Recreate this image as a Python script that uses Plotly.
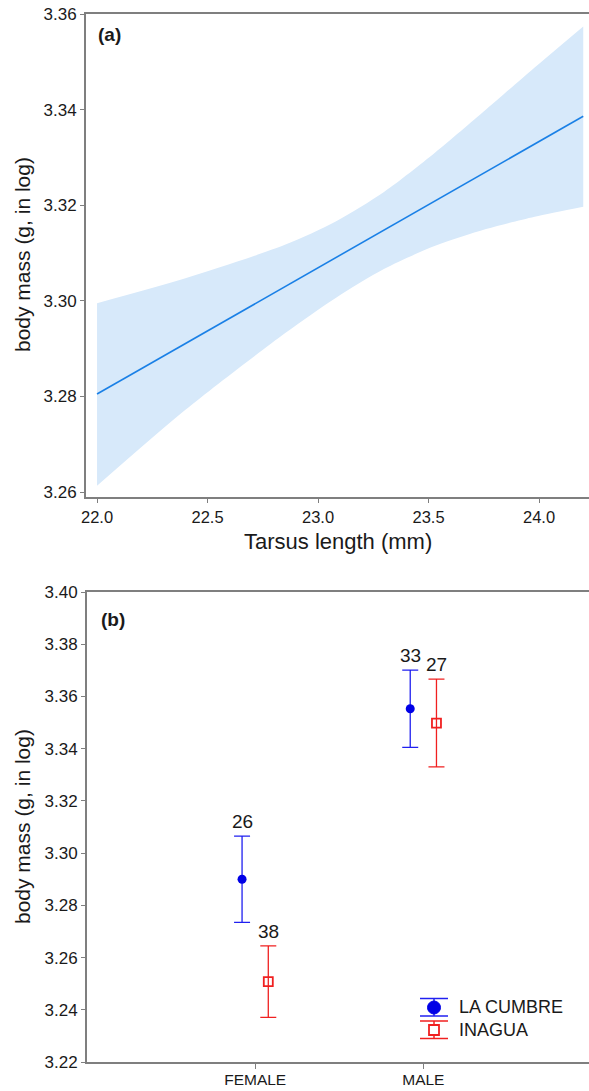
import plotly.graph_objects as go

# ---------------- data ----------------
# panel (a): fitted regression line and its confidence band
tarsus_fit = [22.0, 24.2]
mass_fit = [3.2805, 3.3386]
band_x = [22.0, 22.4, 22.85, 23.08, 23.3, 23.53, 23.76, 23.98, 24.2]
band_upper = [3.2995, 3.3047, 3.3117, 3.3166, 3.3228, 3.3310, 3.3400, 3.3488, 3.3574]
band_lower = [3.2613, 3.2772, 3.2932, 3.3006, 3.3067, 3.3115, 3.3150, 3.3176, 3.3197]

# panel (b): means +/- error by sex and population
sexes = ["FEMALE", "MALE"]
sex_pos = [1, 2]
lc_mean = [3.2900, 3.3553]
lc_err = [0.0165, 0.0148]
lc_n = [26, 33]
ina_mean = [3.2508, 3.3498]
ina_err = [0.0137, 0.0168]
ina_n = [38, 27]
series_names = ["LA CUMBRE", "INAGUA"]

# ---------------- styling ----------------
W, H = 589, 1091
FONT = "Liberation Sans, Arial, sans-serif"
AX = "#7f7f7f"
TXT = "#1a1a1a"
BLUE = "#2020f0"
BLUE_M = "#0000e6"
RED = "#f02020"
offset = 0.078

lc_x = [p - offset for p in sex_pos]
ina_x = [p + offset for p in sex_pos]

fig = go.Figure()

# panel (a)
fig.add_trace(go.Scatter(x=band_x, y=band_lower, mode="lines", line=dict(width=0, shape="spline", smoothing=0.8),
                         showlegend=False, hoverinfo="skip", xaxis="x", yaxis="y"))
fig.add_trace(go.Scatter(x=band_x, y=band_upper, mode="lines", line=dict(width=0, shape="spline", smoothing=0.8),
                         fill="tonexty", fillcolor="#d7e9fa", showlegend=False, hoverinfo="skip",
                         xaxis="x", yaxis="y"))
fig.add_trace(go.Scatter(x=tarsus_fit, y=mass_fit, mode="lines", line=dict(color="#1a80e6", width=1.6),
                         showlegend=False, xaxis="x", yaxis="y"))

# panel (b)
fig.add_trace(go.Scatter(x=lc_x, y=lc_mean, mode="markers", name=series_names[0],
                         marker=dict(symbol="circle", size=9, color=BLUE_M),
                         error_y=dict(type="data", array=lc_err, color=BLUE, thickness=1.3, width=8),
                         showlegend=False, xaxis="x2", yaxis="y2"))
fig.add_trace(go.Scatter(x=ina_x, y=ina_mean, mode="markers", name=series_names[1],
                         marker=dict(symbol="square-open", size=9, color=RED, line=dict(width=1.8, color=RED)),
                         error_y=dict(type="data", array=ina_err, color=RED, thickness=1.3, width=8),
                         showlegend=False, xaxis="x2", yaxis="y2"))

annotations = []
for xs, ms, es, ns in [(lc_x, lc_mean, lc_err, lc_n), (ina_x, ina_mean, ina_err, ina_n)]:
    for x, m, e, n in zip(xs, ms, es, ns):
        annotations.append(dict(x=x, y=m + e, xref="x2", yref="y2", text=str(n), showarrow=False,
                                yanchor="bottom", yshift=2, font=dict(family=FONT, size=19, color=TXT)))

# panel labels
annotations.append(dict(x=96 / W, y=1 - 35 / H, xref="paper", yref="paper", text="<b>(a)</b>", showarrow=False,
                        xanchor="left", yanchor="middle", font=dict(family=FONT, size=19, color=TXT)))
annotations.append(dict(x=99 / W, y=1 - 619 / H, xref="paper", yref="paper", text="<b>(b)</b>", showarrow=False,
                        xanchor="left", yanchor="middle", font=dict(family=FONT, size=19, color=TXT)))
# axis titles
annotations.append(dict(x=22 / W, y=1 - 255 / H, xref="paper", yref="paper", text="body mass (g, in log)",
                        showarrow=False, textangle=-90, xanchor="center", yanchor="middle",
                        font=dict(family=FONT, size=21, color=TXT)))
annotations.append(dict(x=22 / W, y=1 - 827 / H, xref="paper", yref="paper", text="body mass (g, in log)",
                        showarrow=False, textangle=-90, xanchor="center", yanchor="middle",
                        font=dict(family=FONT, size=21, color=TXT)))
annotations.append(dict(x=338 / W, y=1 - 541 / H, xref="paper", yref="paper", text="Tarsus length (mm)",
                        showarrow=False, xanchor="center", yanchor="middle",
                        font=dict(family=FONT, size=22, color=TXT)))
# legend texts
annotations.append(dict(x=457 / W, y=1 - 1007 / H, xref="paper", yref="paper", text=series_names[0],
                        showarrow=False, xanchor="left", yanchor="middle", font=dict(family=FONT, size=18, color=TXT)))
annotations.append(dict(x=457 / W, y=1 - 1030 / H, xref="paper", yref="paper", text=series_names[1],
                        showarrow=False, xanchor="left", yanchor="middle", font=dict(family=FONT, size=18, color=TXT)))

# legend symbols (decoration drawn in pixel units around paper anchors)
shapes = []
def px_line(xa, ya, x0, y0, x1, y1, color, w=1.5):
    shapes.append(dict(type="line", xref="paper", yref="paper", xsizemode="pixel", ysizemode="pixel",
                       xanchor=xa, yanchor=ya, x0=x0, y0=y0, x1=x1, y1=y1, line=dict(color=color, width=w)))

lx = 434 / W
ly1 = 1 - 1007.5 / H
ly2 = 1 - 1030 / H
px_line(lx, ly1, -14, 9, 14, 9, BLUE)
px_line(lx, ly1, -14, -8.5, 14, -8.5, BLUE)
px_line(lx, ly1, 0, -8.5, 0, 9, BLUE)
shapes.append(dict(type="circle", xref="paper", yref="paper", xsizemode="pixel", ysizemode="pixel",
                   xanchor=lx, yanchor=ly1, x0=-6.5, y0=-6.5, x1=6.5, y1=6.5,
                   fillcolor=BLUE_M, line=dict(color=BLUE_M, width=1)))
px_line(lx, ly2, -14, 9, 14, 9, RED)
px_line(lx, ly2, -14, -8.5, 14, -8.5, RED)
px_line(lx, ly2, 0, -8.5, 0, 9, RED)
shapes.append(dict(type="rect", xref="paper", yref="paper", xsizemode="pixel", ysizemode="pixel",
                   xanchor=lx, yanchor=ly2, x0=-5, y0=-5, x1=5, y1=5,
                   fillcolor="white", line=dict(color=RED, width=1.8)))

axis_common = dict(showline=True, linecolor=AX, linewidth=2, ticks="outside", tickcolor=AX, tickwidth=1,
                   showgrid=False, zeroline=False, automargin=False)

fig.update_layout(
    width=W, height=H,
    margin=dict(l=0, r=0, t=0, b=0),
    paper_bgcolor="white", plot_bgcolor="white",
    showlegend=False,
    xaxis=dict(domain=[86 / W, 1], range=[21.95, 21.95 + 503 / 221], tickvals=[22.0, 22.5, 23.0, 23.5, 24.0],
               tickformat=".1f", ticklen=4, mirror=True, anchor="y",
               tickfont=dict(family=FONT, size=16.5, color=TXT), **axis_common),
    yaxis=dict(domain=[1 - 497 / H, 1 - 14 / H], range=[3.36 - 483 / 4780, 3.36],
               tickvals=[3.26, 3.28, 3.30, 3.32, 3.34, 3.36], tickformat=".2f", ticklen=4, anchor="x",
               tickfont=dict(family=FONT, size=17, color=TXT), **axis_common),
    xaxis2=dict(domain=[87 / W, 1], range=[0, 2.985], tickvals=sex_pos, ticktext=sexes, ticklen=5,
                mirror=True, anchor="y2", ticklabelstandoff=-3,
                tickfont=dict(family=FONT, size=15.5, color=TXT), **axis_common),
    yaxis2=dict(domain=[1 - 1062 / H, 1 - 592 / H], range=[3.22, 3.40],
                tickvals=[3.22, 3.24, 3.26, 3.28, 3.30, 3.32, 3.34, 3.36, 3.38, 3.40], tickformat=".2f",
                ticklen=4, anchor="x2", tickfont=dict(family=FONT, size=17, color=TXT), **axis_common),
    annotations=annotations,
    shapes=shapes,
)

fig.write_html("out.html", config={"displayModeBar": False},
               post_script="document.body.style.margin='0';document.body.style.overflow='hidden';")
